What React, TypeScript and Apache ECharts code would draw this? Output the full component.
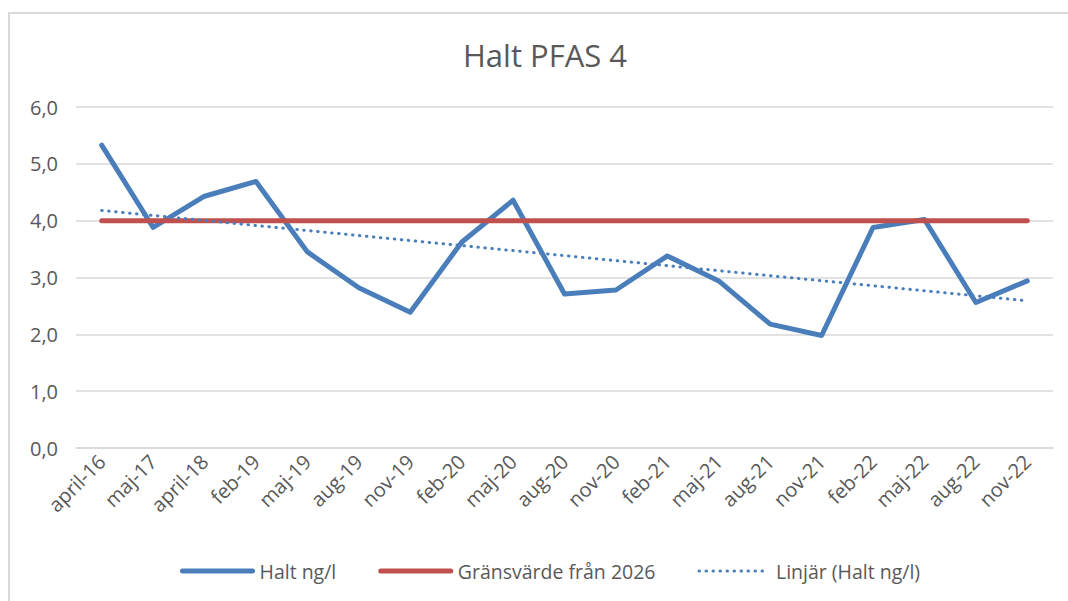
import React, { useEffect, useRef } from "react";
import * as echarts from "echarts";

const categories = [
  "april-16", "maj-17", "april-18", "feb-19", "maj-19", "aug-19", "nov-19",
  "feb-20", "maj-20", "aug-20", "nov-20", "feb-21", "maj-21", "aug-21",
  "nov-21", "feb-22", "maj-22", "aug-22", "nov-22",
];
const haltValues = [
  5.33, 3.88, 4.43, 4.69, 3.45, 2.82, 2.39, 3.62, 4.36, 2.71, 2.78, 3.38,
  2.94, 2.18, 1.98, 3.88, 4.02, 2.56, 2.94,
];
const limitValues = [4, 4, 4, 4, 4, 4, 4, 4, 4, 4, 4, 4, 4, 4, 4, 4, 4, 4, 4];
const trendStart = 4.18;
const trendEnd = 2.59;
const yTicks = [0, 1, 2, 3, 4, 5, 6];
const seriesNames = ["Halt ng/l", "Gränsvärde från 2026", "Linjär (Halt ng/l)"];
const titleText = "Halt PFAS 4";

export default function App() {
  const ref = useRef<HTMLDivElement>(null);
  useEffect(() => {
    if (!ref.current) return;
    const chart = echarts.init(ref.current, undefined, { renderer: "svg" });
    const trendData = categories.map((_, i) =>
      i === 0 ? trendStart : i === categories.length - 1 ? trendEnd : null
    );
    const font = "'Open Sans', 'Noto Sans', sans-serif";
    chart.setOption({
      animation: false,
      backgroundColor: "#ffffff",
      textStyle: { fontFamily: font },
      title: {
        text: titleText,
        left: 458,
        top: 34,
        textStyle: { fontSize: 31, fontWeight: "normal", color: "#595959", fontFamily: font },
      },
      graphic: [
        {
          type: "rect",
          shape: { x: 9, y: 13, width: 1080, height: 620 },
          style: { fill: "none", stroke: "#d9d9d9", lineWidth: 2 },
          silent: true,
        },
      ],
      legend: {
        bottom: 15,
        left: 175,
        itemWidth: 70,
        itemHeight: 10,
        itemGap: 42,
        itemStyle: { opacity: 0 },
        textStyle: { fontSize: 19.5, color: "#595959", fontFamily: font, padding: [0, 0, 0, 2] },
        data: [
          { name: seriesNames[0], lineStyle: { width: 5, cap: "round" } },
          { name: seriesNames[1], lineStyle: { width: 5, cap: "round" } },
          { name: seriesNames[2], lineStyle: { width: 3 } },
        ],
      },
      grid: { left: 76, right: 15, top: 107, height: 341, containLabel: false },
      xAxis: {
        type: "category",
        data: categories,
        boundaryGap: true,
        axisLine: { show: true, lineStyle: { color: "#d9d9d9", width: 1.5 } },
        axisTick: { show: false },
        axisLabel: {
          rotate: 45,
          interval: 0,
          margin: 10,
          fontSize: 20,
          color: "#595959",
          fontFamily: font,
        },
      },
      yAxis: {
        type: "value",
        min: yTicks[0],
        max: yTicks[yTicks.length - 1],
        interval: 1,
        axisLine: { show: false },
        axisTick: { show: false },
        splitLine: { lineStyle: { color: "#d9d9d9", width: 1.5 } },
        axisLabel: {
          margin: 18,
          fontSize: 20,
          color: "#595959",
          fontFamily: font,
          formatter: (v: number) => v.toFixed(1).replace(".", ","),
        },
      },
      series: [
        {
          name: seriesNames[0],
          type: "line",
          data: haltValues,
          showSymbol: false,
          symbol: "none",
          z: 3,
          lineStyle: { color: "#4a7ebb", width: 5, cap: "round", join: "round" },
          itemStyle: { color: "#4a7ebb" },
        },
        {
          name: seriesNames[1],
          type: "line",
          data: limitValues,
          showSymbol: false,
          symbol: "none",
          z: 4,
          lineStyle: { color: "#c0504d", width: 5, cap: "round" },
          itemStyle: { color: "#c0504d" },
        },
        {
          name: seriesNames[2],
          type: "line",
          data: trendData,
          connectNulls: true,
          showSymbol: false,
          symbol: "none",
          z: 5,
          lineStyle: { color: "#4a7ebb", width: 3, type: [0.5, 6.5], cap: "round" },
          itemStyle: { color: "#4a7ebb" },
        },
      ],
    });
    return () => chart.dispose();
  }, []);
  return (
    <div
      ref={ref}
      style={{ position: "absolute", left: 0, top: 0, width: 1068, height: 601 }}
    />
  );
}
